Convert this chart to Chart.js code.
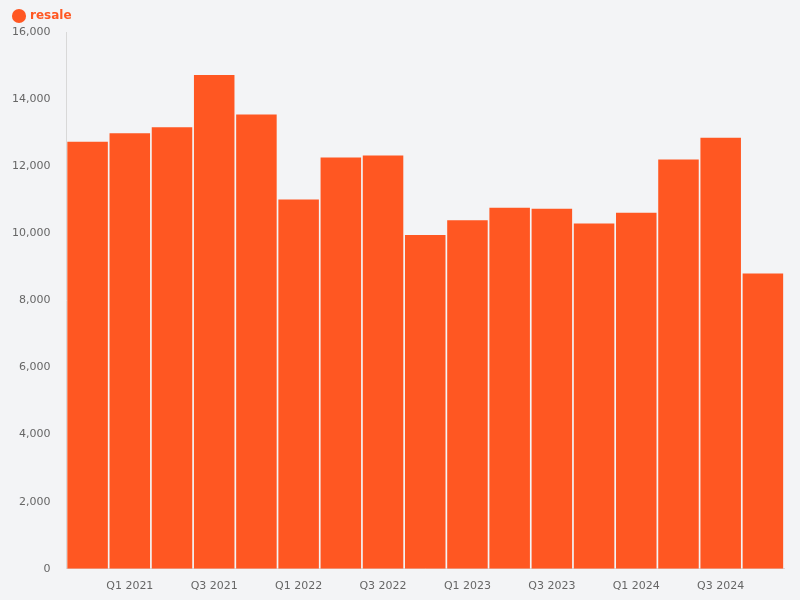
<!DOCTYPE html>
<html><head><meta charset="utf-8">
<script src="https://cdn.jsdelivr.net/npm/chart.js@4/dist/chart.umd.min.js"></script>
<style>html,body{margin:0;background:#f3f4f6;}#w{width:800px;height:600px;}</style>
</head><body><div id="w"><canvas id="c"></canvas></div>
<script>
const categories = ["Q4 2020","Q1 2021","Q2 2021","Q3 2021","Q4 2021","Q1 2022","Q2 2022","Q3 2022","Q4 2022","Q1 2023","Q2 2023","Q3 2023","Q4 2023","Q1 2024","Q2 2024","Q3 2024","Q4 2024"];
const resale = [12730,12980,13160,14720,13540,11010,12260,12320,9950,10390,10760,10730,10290,10610,12200,12850,8800];
const yTicks = [0,2000,4000,6000,8000,10000,12000,14000,16000];
new Chart(document.getElementById('c'), {
  type: 'bar',
  data: { labels: categories, datasets: [{ label: 'resale', data: resale, backgroundColor: '#ff5722', barPercentage: 0.96, categoryPercentage: 1 }] },
  options: {
    responsive: true, maintainAspectRatio: false, animation: false,
    layout: { padding: { left: 4, right: 16, top: 0, bottom: 4 } },
    plugins: {
      legend: { position: 'top', align: 'start',
        labels: { usePointStyle: true, pointStyle: 'circle', boxWidth: 10, boxHeight: 10, color: '#ff5722', font: { family: 'DejaVu Sans', size: 12, weight: 'bold' } } },
      tooltip: { enabled: false }
    },
    scales: {
      x: { grid: { display: false }, border: { color: '#d8d8d8' },
        ticks: { autoSkip: false, maxRotation: 0, color: '#666', font: { family: 'DejaVu Sans', size: 11 },
          callback: (v, i) => i % 2 === 1 ? categories[i] : '' } },
      y: { min: 0, max: 16000, grid: { display: false }, border: { color: '#d8d8d8' },
        afterBuildTicks: a => { a.ticks = yTicks.map(v => ({ value: v })); },
        ticks: { color: '#666', font: { family: 'DejaVu Sans', size: 11 }, padding: 8 } }
    }
  }
});
</script></body></html>
